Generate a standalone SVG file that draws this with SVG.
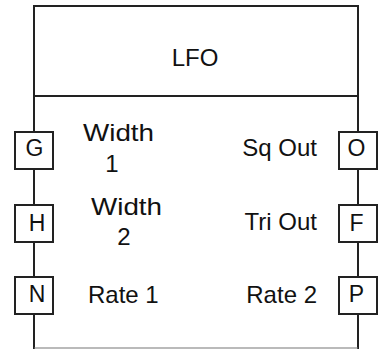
<svg xmlns="http://www.w3.org/2000/svg" width="378" height="349" viewBox="0 0 378 349">
<style>
.ln{fill:none;stroke:#222;stroke-width:2}
.bx{fill:#fff;stroke:#222;stroke-width:2}
.t{font-family:"Liberation Sans",Arial,sans-serif;font-size:24px;fill:#111}
.p{font-family:"Liberation Sans",Arial,sans-serif;font-size:23px;fill:#111;text-anchor:middle}
.m{text-anchor:middle}
.e{text-anchor:end}
</style>
<rect width="378" height="349" fill="#fff"/>
<g id="lfo">
<path class="ln" d="M34,349V6H358V349"/>
<line x1="34" y1="348" x2="358" y2="348" stroke="#777" stroke-width="1.2"/>
<line class="ln" x1="34" y1="96" x2="358" y2="96"/>
<text class="t m" x="195" y="66">LFO</text>
<text class="t" x="83" y="141" textLength="71" lengthAdjust="spacingAndGlyphs">Width</text>
<text class="t m" x="112" y="172">1</text>
<text class="t" x="91" y="215" textLength="71" lengthAdjust="spacingAndGlyphs">Width</text>
<text class="t m" x="124" y="245">2</text>
<text class="t" x="88" y="303">Rate 1</text>
<text class="t e" x="317" y="156">Sq Out</text>
<text class="t e" x="317" y="230">Tri Out</text>
<text class="t e" x="317" y="303">Rate 2</text>
</g>
<g id="port-G"><rect class="bx" x="15" y="132" width="38" height="37"/><text class="p" x="34.5" y="156">G</text></g>
<g id="port-H"><rect class="bx" x="15" y="205" width="38" height="37"/><text class="p" x="37" y="231">H</text></g>
<g id="port-N"><rect class="bx" x="15" y="277" width="38" height="37"/><text class="p" x="37" y="302">N</text></g>
<g id="port-O"><rect class="bx" x="339" y="132" width="38" height="37"/><text class="p" x="356.5" y="156">O</text></g>
<g id="port-F"><rect class="bx" x="339" y="205" width="38" height="37"/><text class="p" x="356.5" y="231">F</text></g>
<g id="port-P"><rect class="bx" x="339" y="277" width="38" height="37"/><text class="p" x="356.5" y="302">P</text></g>
<g id="connectors"></g>
</svg>
